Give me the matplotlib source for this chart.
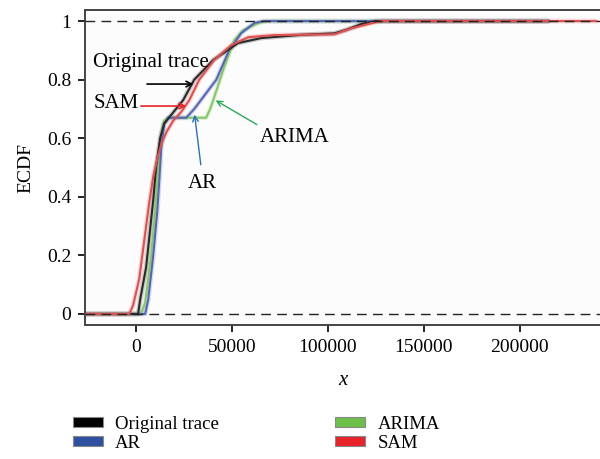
import matplotlib
matplotlib.use("Agg")
import matplotlib.pyplot as plt
from matplotlib.patches import Patch

plt.rcParams["font.family"] = ["Liberation Serif", "DejaVu Serif"]

# ECDF curves (x in bytes, y cumulative fraction)
orig_x = [-26100, 1000, 2100, 5200, 8900, 10400, 12500, 14600, 18300, 24500,
          30300, 40200, 53200, 65300, 86100, 103400, 109600, 117500, 125300, 215000]
orig_y = [0.0, 0.0, 0.05, 0.16, 0.39, 0.50, 0.60, 0.65, 0.68, 0.73,
          0.80, 0.867, 0.925, 0.942, 0.953, 0.958, 0.97, 0.99, 1.0, 1.0]

ar_x = [-26100, 4700, 6300, 8900, 11000, 12000, 13100, 14600, 16700, 26100,
        30300, 41800, 48500, 54800, 61600, 66300, 215000]
ar_y = [0.0, 0.0, 0.05, 0.20, 0.35, 0.45, 0.57, 0.65, 0.67, 0.67,
        0.70, 0.80, 0.90, 0.959, 0.993, 1.0, 1.0]

arima_x = [-26100, 2600, 4700, 7800, 9900, 11500, 13100, 14600, 16700, 36500,
           38600, 40200, 45900, 51200, 55900, 63700, 67900, 215000]
arima_y = [0.0, 0.0, 0.04, 0.20, 0.35, 0.50, 0.62, 0.66, 0.67, 0.67,
           0.70, 0.73, 0.843, 0.935, 0.969, 0.993, 1.0, 1.0]

sam_x = [-26100, -3600, -1600, 1600, 4200, 6800, 8900, 11000, 13100, 15700,
         19300, 23500, 27700, 32900, 40700, 49600, 58500, 72000, 103400,
         112200, 124200, 128000, 240000]
sam_y = [0.0, 0.0, 0.03, 0.12, 0.25, 0.38, 0.47, 0.53, 0.58, 0.62,
         0.66, 0.69, 0.73, 0.80, 0.867, 0.918, 0.945, 0.952, 0.955,
         0.975, 0.995, 1.0, 1.0]

series_names = ["Original trace", "AR", "ARIMA", "SAM"]
line_colors = ["#2a2a2a", "#5566b8", "#86c866", "#e05050"]
patch_colors = ["#000000", "#2f4f9f", "#6cc04a", "#e8232a"]

x_ticks = [0, 50000, 100000, 150000, 200000]
y_ticks = [0, 0.2, 0.4, 0.6, 0.8, 1]
y_tick_labels = ["0", "0.2", "0.4", "0.6", "0.8", "1"]

fig = plt.figure(figsize=(6.0, 4.59), dpi=100)
ax = fig.add_axes([0.142, 0.292, 0.858, 0.686])
ax.set_facecolor("#fcfcfc")

curves = [(orig_x, orig_y), (ar_x, ar_y), (arima_x, arima_y), (sam_x, sam_y)]
draw_order = [2, 1, 0, 3]
for i in draw_order:
    xs, ys = curves[i]
    # soft halo under each curve
    ax.plot(xs, ys, color=line_colors[i], lw=3.4, alpha=0.22,
            solid_joinstyle="round", solid_capstyle="round", zorder=2)
    ax.plot(xs, ys, color=line_colors[i], lw=1.5,
            solid_joinstyle="round", solid_capstyle="round", zorder=3)

ax.axhline(0, color="#222222", lw=1.0, ls=(0, (7, 4.5)), zorder=4)
ax.axhline(1, color="#222222", lw=1.0, ls=(0, (7, 4.5)), zorder=4)

ax.set_xlim(-26600, 242000)
ax.set_ylim(-0.0375, 1.0375)
ax.set_xticks(x_ticks)
ax.set_xticklabels([str(t) for t in x_ticks])
ax.set_yticks(y_ticks)
ax.set_yticklabels(y_tick_labels)
ax.tick_params(direction="out", length=5, width=1.4, color="#222222",
               labelsize=14, pad=5)

for side in ["left", "top", "bottom"]:
    ax.spines[side].set_color("#444444")
    ax.spines[side].set_linewidth(1.4)
ax.spines["right"].set_visible(False)

ax.set_xlabel("x", fontsize=15, style="italic", labelpad=11)
ax.set_ylabel("ECDF", fontsize=14, labelpad=9)

# callouts
fs = 15
ax.annotate("", xy=(31300, 0.785), xytext=(4200, 0.785),
            arrowprops=dict(arrowstyle="->", color="black", lw=1.2))
ax.text(-22400, 0.86, "Original trace", fontsize=fs, va="center", ha="left")

ax.annotate("", xy=(27700, 0.71), xytext=(1000, 0.71),
            arrowprops=dict(arrowstyle="->", color="#e8232a", lw=1.2))
ax.text(-22400, 0.717, "SAM", fontsize=fs, va="center", ha="left")

ax.annotate("", xy=(30300, 0.69), xytext=(33900, 0.50),
            arrowprops=dict(arrowstyle="->", color="#2a6fc0", lw=1.0))
ax.text(34450, 0.447, "AR", fontsize=fs, va="center", ha="center")

ax.annotate("", xy=(40200, 0.734), xytext=(64200, 0.642),
            arrowprops=dict(arrowstyle="->", color="#2aaa55", lw=1.0))
ax.text(82500, 0.604, "ARIMA", fontsize=fs, va="center", ha="center")

handles = [Patch(facecolor=c, edgecolor="#888888", lw=0.8) for c in patch_colors]
fig.legend(handles, series_names, ncol=2, loc="upper left",
           bbox_to_anchor=(0.109, 0.11), frameon=False, fontsize=13.5,
           handlelength=1.6, handleheight=0.45, handletextpad=0.65,
           columnspacing=6.2, labelspacing=0.08, borderaxespad=0)

fig.savefig("out.png", dpi=100)
